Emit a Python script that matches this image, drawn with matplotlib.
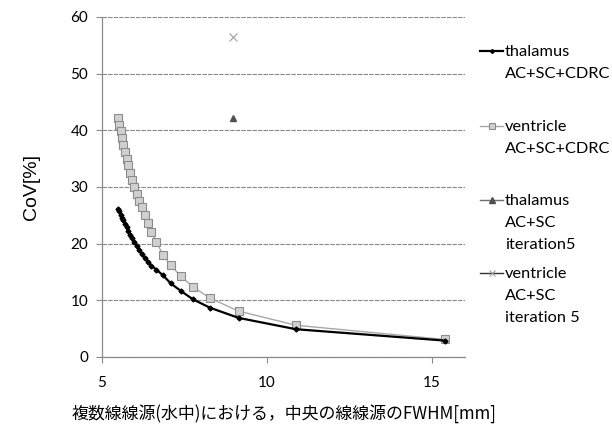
import numpy as np
import matplotlib.pyplot as plt
from matplotlib.lines import Line2D

# --- data ---
fwhm = [5.49, 5.53, 5.57, 5.61, 5.65, 5.70, 5.75, 5.80, 5.86, 5.92, 5.98, 6.05, 6.12,
        6.20, 6.30, 6.39, 6.50, 6.65, 6.85, 7.08, 7.38, 7.75, 8.27, 9.14, 10.88, 15.38]
thalamus_cdrc = [26.2, 25.7, 25.1, 24.6, 24.1, 23.5, 22.9, 22.3, 21.6, 21.0, 20.3, 19.6, 18.9,
                 18.2, 17.4, 16.8, 16.1, 15.4, 14.4, 13.0, 11.7, 10.2, 8.7, 6.9, 4.9, 2.9]
ventricle_cdrc = [42.2, 41.0, 39.8, 38.6, 37.4, 36.2, 35.0, 33.8, 32.5, 31.2, 30.0, 28.8, 27.6,
                  26.5, 25.0, 23.6, 22.1, 20.3, 18.0, 16.2, 14.3, 12.4, 10.4, 8.1, 5.6, 3.1]
fwhm_it5 = [8.98]
thalamus_it5 = [42.1]
ventricle_it5 = [56.5]

legend_labels = ["thalamus\nAC+SC+CDRC", "ventricle\nAC+SC+CDRC",
                 "thalamus\nAC+SC\niteration5", "ventricle\nAC+SC\niteration 5"]
xticks = [5, 10, 15]
yticks = [0, 10, 20, 30, 40, 50, 60]
xlabel = "複数線線源(水中)における，中央の線線源のFWHM[mm]"
ylabel = "CoV[%]"

W, H = 612, 434
fig = plt.figure(figsize=(W / 100, H / 100), dpi=100)
ax = fig.add_axes([102 / W, 1 - 357 / H, (465 - 102) / W, (357 - 17) / H])

# series
styles = [
    dict(color="black", lw=1.6, marker="D", ms=2.5, mfc="black", mec="black"),
    dict(color="#a8a8a8", lw=1.0, marker="s", ms=5.5, mfc="#d0d0d0", mec="#8c8c8c", mew=0.8),
    dict(color="#707070", lw=1.0, marker="^", ms=5, mfc="#505050", mec="#505050"),
    dict(color="#333333", lw=1.0, marker="x", ms=6, mfc="#a0a0a0", mec="#a0a0a0", mew=0.8),
]
ax.plot(fwhm, thalamus_cdrc, zorder=4, **styles[0])
ax.plot(fwhm, ventricle_cdrc, zorder=3, **styles[1])
ax.plot(fwhm_it5, thalamus_it5, ls="none", zorder=3,
        **{k: v for k, v in styles[2].items() if k not in ("color", "lw")})
ax.plot(fwhm_it5, ventricle_it5, ls="none", zorder=3,
        **{k: v for k, v in styles[3].items() if k not in ("color", "lw")})

ax.set_xlim(5, 16)
ax.set_ylim(0, 60)
ax.set_xticks(xticks)
ax.set_yticks(yticks)
ax.yaxis.grid(True, color="#8a8a8a", lw=0.8, ls=(0, (4, 1)))
ax.set_axisbelow(True)
for s in ("top", "right"):
    ax.spines[s].set_visible(False)
for s in ("left", "bottom"):
    ax.spines[s].set_color("#8a8a8a")
    ax.spines[s].set_linewidth(0.9)
ax.tick_params(axis="both", direction="out", length=4, color="#8a8a8a", width=0.8,
               labelsize=11, pad=6)
ax.tick_params(axis="x", pad=10)
for lab in ax.get_xticklabels() + ax.get_yticklabels():
    lab.set_family(["Lato", "DejaVu Sans"])

ax.set_ylabel(ylabel, family="Liberation Sans", fontsize=14, labelpad=22)
ax.set_xlabel(xlabel, family=["Noto Sans CJK JP", "DejaVu Sans"], fontsize=12.2, labelpad=10)

# manual legend (Excel style, right of the plot)
line_y = [51, 126, 200, 273]
for i, (lab, st, yy) in enumerate(zip(legend_labels, styles, line_y)):
    yf = 1 - yy / H
    h = Line2D([480 / W, 503 / W], [yf, yf], transform=fig.transFigure, color=st["color"],
               lw=st["lw"])
    fig.add_artist(h)
    m = Line2D([491.5 / W], [yf], transform=fig.transFigure, ls="none", marker=st["marker"],
               ms=st["ms"] * 0.8, mfc=st["mfc"], mec=st["mec"], mew=st.get("mew", 1))
    fig.add_artist(m)
    fig.text(505 / W, 1 - (yy - 6) / H, lab, family=["Lato", "DejaVu Sans"], fontsize=11.8,
             va="top", ha="left", linespacing=1.73)

fig.savefig("out.png", dpi=100)
